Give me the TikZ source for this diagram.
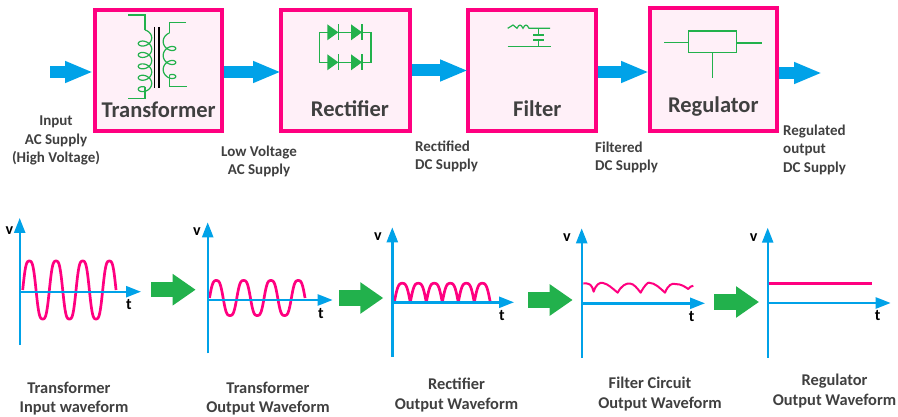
\documentclass[tikz,border=0pt]{standalone}
\usepackage{xcolor}
\usepackage{fontspec}
\setmainfont{Carlito}
\usetikzlibrary{arrows.meta, positioning, calc}
\definecolor{mypink}{RGB}{255,0,128}
\definecolor{myblue}{RGB}{0,162,232}
\definecolor{mygreen}{RGB}{34,177,76}
\definecolor{mygray}{RGB}{64,64,64}
\definecolor{hdrpink}{RGB}{255,240,248}
\tikzset{
  stagebox/.style={rectangle, draw=mypink, fill=hdrpink, line width=4pt, inner sep=0pt},
  stagename/.style={font=\fontsize{22.5}{24}\selectfont\bfseries, color=mygray, inner sep=0pt},
  supply/.style={font=\fontsize{15}{18.5}\selectfont\bfseries, color=mygray, inner sep=0pt},
  caption/.style={font=\fontsize{16.4}{19.5}\selectfont\bfseries, color=mygray, align=center, inner sep=0pt},
  axislabel/.style={font=\fontsize{16}{16}\selectfont\bfseries, inner sep=0pt},
  blockarrow/.style={-{Triangle[length=28pt,width=20pt]}, line width=12pt, color=myblue},
  flowarrow/.style={-{Triangle[length=23pt,width=30pt]}, line width=15.5pt, color=mygreen},
  axisline/.style={-{Triangle[length=15pt,width=11pt]}, line width=2.4pt, color=myblue},
  wave/.style={line width=2.7pt, color=mypink, line join=round},
  sym/.style={line width=1.2pt, color=mygreen}
}
\begin{document}
\begin{tikzpicture}[x=1pt, y=-1pt]
  \useasboundingbox[fill=white] (0,0) rectangle (898,417);

  % Stage boxes
  \node[stagebox, minimum width=127pt, minimum height=121pt] (xfmr) at (158.5,70.5) {};
  \node[stagebox, minimum width=129pt, minimum height=121pt] (rect) at (345.5,70.5) {};
  \node[stagebox, minimum width=128pt, minimum height=121pt] (filt) at (532,70.5) {};
  \node[stagebox, minimum width=127pt, minimum height=123pt] (regu) at (713.5,69.5) {};
  \node[stagename] (xfmrname) at (158.7,109.5) {Transformer};
  \node[stagename] (rectname) at (350,108.7) {Rectifier};
  \node[stagename] (filtname) at (537.3,108.7) {Filter};
  \node[stagename] (reguname) at (713.3,106.7) {Regulator};

  % Blue arrows
  \coordinate (inp) at (50,72);
  \coordinate (outp) at (822,73);
  \draw[blockarrow] (inp) -- ([yshift=-1.5pt]xfmr.west);
  \draw[blockarrow] ([yshift=-1.5pt]xfmr.east) -- ([yshift=-1.5pt,xshift=2pt]rect.west);
  \draw[blockarrow] (rect.east) -- ([xshift=2pt]filt.west);
  \draw[blockarrow] ([yshift=-1.5pt]filt.east) -- ([yshift=-2.5pt,xshift=1pt]regu.west);
  \draw[blockarrow] ([yshift=-3.5pt]regu.east) -- (outp);

  % Supply labels
  \node[supply, align=center] (lblin) at (56,140.5) {Input\\AC Supply\\(High Voltage)};
  \node[supply, align=center] (lbllow) at (259,161.5) {Low Voltage\\AC Supply};
  \node[supply, align=left, anchor=west] (lblrect) at (415,156.5) {Rectified\\DC Supply};
  \node[supply, align=left, anchor=west] (lblfilt) at (595,157.5) {Filtered\\DC Supply};
  \node[supply, align=left, anchor=west] (lblregu) at (783,149.5) {Regulated\\output\\DC Supply};

  % Transformer symbol
  \draw[sym] (128.3,15) -- (145,15) -- (145,30);
  \draw[sym] (128.3,98.3) -- (145,98.3) -- (145,87);
  \draw[sym, samples=220, variable=\a, domain=-90:1710]
    plot ({145+6.7*cos(\a)},{35+(\a+90)/1800*57+5*sin(\a)});
  \draw[sym] (186,22.7) -- (169.3,22.7) -- (169.3,33);
  \draw[sym] (186.7,86.7) -- (169.3,86.7) -- (169.3,75);
  \draw[sym, samples=150, variable=\a, domain=-90:990]
    plot ({169.5-6.3*cos(\a)},{38+(\a+90)/1080*42+5*sin(\a)});
  \draw[black, line width=1.3pt] (154.3,27) -- (154.3,88);
  \draw[black, line width=1.3pt] (158.9,27) -- (158.9,88);

  % Rectifier symbol
  \draw[sym] (319.3,32.3) rectangle (371,62.3);
  \foreach \dx in {327.3,351} {
    \foreach \dy in {32.3,62.3} {
      \fill[mygreen] (\dx,\dy-8) -- (\dx+11,\dy) -- (\dx,\dy+8) -- cycle;
      \draw[sym] (\dx+11,\dy-8) -- (\dx+11,\dy+8);
    }
  }

  % Filter symbol
  \draw[sym] (507.7,28.3) .. controls (510,28.3) and (511,25) .. (513,25)
    .. controls (515,25) and (515,28.3) .. (517,28.3)
    .. controls (519,24) and (521,24) .. (523,28.3)
    .. controls (525,24) and (527,24) .. (529,28.3) -- (550,28.3);
  \draw[sym] (538.3,28.3) -- (538.3,35);
  \draw[sym] (538.3,40) -- (538.3,46.7);
  \draw[sym] (533,35) -- (543.5,35);
  \draw[sym] (533,40) -- (543.5,40);
  \draw[sym] (507.7,46.7) -- (550.7,46.7);

  % Regulator symbol
  \draw[sym] (688.3,31) rectangle (736.7,52.7);
  \draw[sym] (664.3,42.7) -- (688.3,42.7);
  \draw[sym] (736.7,43) -- (761.7,43);
  \draw[sym] (712.7,52.7) -- (712.7,78.3);

  % Waveform axes
  \foreach \nm/\ax/\top/\bot/\ay/\tend/\vx/\vy/\tx/\ty in {
    one/19.7/218/345/291.7/141/9.3/231/129/305,
    two/207.7/222.3/353.3/300/332.7/197/231.6/321/313.7,
    three/392.3/227.3/356.7/302.3/514/378/237/502/316,
    four/581.7/228.3/357.7/303.3/705/567/238/691.7/317,
    five/767.7/227.7/357.7/303/890.7/753.7/238/877.7/316} {
    \coordinate (\nm vb) at (\ax,\bot);
    \coordinate (\nm vt) at (\ax,\top);
    \coordinate (\nm o) at (\ax,\ay);
    \coordinate (\nm te) at (\tend,\ay);
    \node[axislabel] (\nm v) at (\vx,\vy) {v};
    \node[axislabel] (\nm t) at (\tx,\ty) {t};
  }

  % Waveforms
  \draw[wave, samples=240, variable=\a, domain=0:1260]
    plot ({22.7+\a/360*26.67},{290-29*(sin(\a)+0.09*sin(3*\a))/0.91});
  \draw[wave, samples=240, variable=\a, domain=0:1260]
    plot ({209.5+\a/360*27.3},{298-17.5*(sin(\a)+0.09*sin(3*\a))/0.91});
  \draw[wave, samples=180, variable=\a, domain=0:1080]
    plot ({394.3+\a/180*16},{302.3-19*abs(sin(\a)+0.09*sin(3*\a))/0.91});
  \draw[wave, line width=2pt] (583.3,283.3) .. controls (590,283) and (592,285) .. (593.7,291.7)
    .. controls (596,284) and (600,282) .. (603,283)
    .. controls (608,284) and (612,288) .. (617.7,292.7)
    .. controls (621,286) and (626,283) .. (630,283.5)
    .. controls (634,284) and (637,288) .. (640.7,292.7)
    .. controls (644,286) and (648,282) .. (649,282.7)
    .. controls (655,283) and (660,288) .. (665,292.7)
    .. controls (668,285) and (672,283) .. (675,284)
    .. controls (682,284) and (685,287) .. (688.3,289)
    .. controls (690,287) and (691,286) .. (693.3,285.7);
  \draw[wave] (769.3,283.3) -- (871.7,283.3);

  % Axes on top of the waves
  \foreach \nm in {one,two,three,four,five} {
    \draw[axisline] (\nm vb) -- (\nm vt);
    \draw[axisline] (\nm o) -- (\nm te);
  }

  % Green arrows
  \foreach \nm/\xa/\xb/\yy in {fa/151/195.7/289.7, fb/339/383.3/298, fc/528.3/572.7/300, fd/714.3/759/302} {
    \coordinate (\nm s) at (\xa,\yy);
    \coordinate (\nm e) at (\xb,\yy);
    \draw[flowarrow] (\nm s) -- (\nm e);
  }

  % Captions
  \node[caption] (capone) at (74,398.5) {\hspace*{-10pt}Transformer\\Input waveform};
  \node[caption] (captwo) at (268,398.5) {Transformer\\Output Waveform};
  \node[caption] (capthree) at (456.5,395) {Rectifier\\Output Waveform};
  \node[caption] (capfour) at (660,394) {\hspace*{-20pt}Filter Circuit\\Output Waveform};
  \node[caption] (capfive) at (834.5,391) {Regulator\\Output Waveform};
\end{tikzpicture}
\end{document}
